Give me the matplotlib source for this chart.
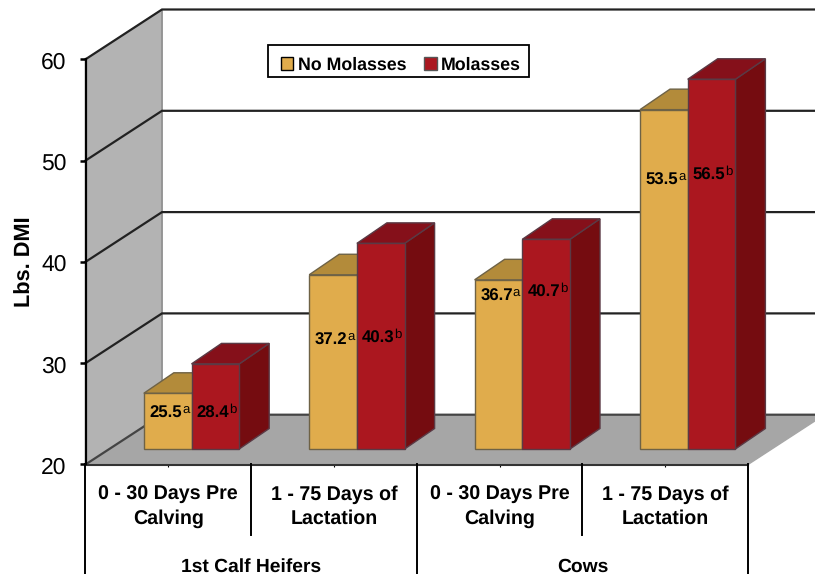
import matplotlib
matplotlib.use("Agg")
import matplotlib.pyplot as plt
from matplotlib.patches import Patch, Polygon, Rectangle
from matplotlib.transforms import ScaledTranslation

plt.rcParams['font.family'] = ['Liberation Sans', 'DejaVu Sans']
plt.rcParams['text.hinting'] = 'no_hinting'

# datos
groups = ["0 - 30 Days Pre\nCalving", "1 - 75 Days of\nLactation",
          "0 - 30 Days Pre\nCalving", "1 - 75 Days of\nLactation"]
parents = ["1st Calf Heifers", "Cows"]
no_molasses = [25.5, 37.2, 36.7, 53.5]
molasses = [28.4, 40.3, 40.7, 56.5]
yticks = [20, 30, 40, 50, 60]

# posicion de las etiquetas, en unidades del eje y
label_no = [25.05, 32.25, 36.6, 48.05]
label_mol = [25.05, 32.45, 37.0, 48.55]

YELLOW, YELLOW_TOP = "#E0AC4C", "#B38B3A"
RED, RED_TOP, RED_SIDE = "#AB171F", "#85101A", "#750C10"
WALL, FLOOR = "#B3B3B3", "#A6A6A6"

W, H = 815, 574
LEFT, RIGHT = 85.5, 748
Y20, Y60 = 464.5, 59.3
UNIT = (Y20 - Y60) / 40   # pixeles por unidad

fig = plt.figure(figsize=(W / 100, H / 100), dpi=100)
ax = fig.add_axes([LEFT / W, 1 - Y20 / H, (W - LEFT) / W, (Y20 - Y60) / H])
ax.set_xlim(LEFT, W)
ax.set_ylim(20, 60)


def ypx(p):
    # pasa una fila de pixeles a unidades del eje y
    return 20 + (Y20 - p) / UNIT


def poly(pts, color, edge=None, z=1, lw=1.0):
    ax.add_patch(Polygon(pts, closed=True, facecolor=color, edgecolor=edge or color,
                         lw=lw, zorder=z, clip_on=False))


# paredes y piso
wall_dx, wall_dy = 76.5, 49.8 / UNIT
poly([(LEFT, 20), (LEFT + wall_dx, 20 + wall_dy), (LEFT + wall_dx, 60 + wall_dy), (LEFT, 60)], WALL, z=1)
ax.plot([LEFT + wall_dx] * 2, [20 + wall_dy, 60 + wall_dy], color="#909090", lw=1.2, zorder=1.1, clip_on=False)
poly([(LEFT, 20), (LEFT + wall_dx, 20 + wall_dy), (RIGHT + wall_dx, 20 + wall_dy), (RIGHT, 20)], FLOOR, z=1.2)

# lineas de rejilla
for t in yticks:
    color = "#222222" if t > 20 else "#444444"
    ax.plot([LEFT, LEFT + wall_dx, W], [t, t + wall_dy, t + wall_dy], color=color, lw=1.6,
            zorder=1.5, clip_on=False, solid_joinstyle="miter")

# barras
bar_w = 47.7
group_w = 165.4
first_mid = 191.5
depth_dx, depth_dy = 30, 20.5 / UNIT
rise = 15.5 / UNIT
base = 20 + rise


def bar3d(x0, v, front, top, side, edge, z):
    x1 = x0 + bar_w
    t = v + rise
    poly([(x1, base), (x1 + depth_dx, base + depth_dy), (x1 + depth_dx, t + depth_dy), (x1, t)], side, edge, z)
    poly([(x0, t), (x0 + depth_dx, t + depth_dy), (x1 + depth_dx, t + depth_dy), (x1, t)], top, edge, z)
    ax.bar(x0, v - 20, bar_w, bottom=base, align="edge", color=front, edgecolor=edge, lw=1.0,
           zorder=z, clip_on=False)


for i in range(len(groups)):
    mid = first_mid + i * group_w
    bar3d(mid - bar_w, no_molasses[i], YELLOW, YELLOW_TOP, YELLOW_TOP, "#6E6246", 2 + i * 0.1)
    bar3d(mid, molasses[i], RED, RED_TOP, RED_SIDE, "#5A3A45", 2.05 + i * 0.1)
    ax.text(mid - 9.5, label_no[i], "%.1f" % no_molasses[i], ha="right", va="center", fontsize=12.1,
            fontweight="bold", color="black", zorder=5)
    ax.text(mid - 9.5, label_no[i] + 0.4, "a", ha="left", va="center", fontsize=9.5, color="black", zorder=5)
    ax.text(mid + 5, label_mol[i], "%.1f" % molasses[i], ha="left", va="center", fontsize=12.1,
            fontweight="bold", color="black", zorder=5)
    ax.text(mid + 37.5, label_mol[i] + 0.4, "b", ha="left", va="center", fontsize=9.5, color="black", zorder=5)

# ejes
for s in ["top", "right"]:
    ax.spines[s].set_visible(False)
ax.patch.set_visible(False)
ax.spines["left"].set_linewidth(1.6)
ax.spines["left"].set_zorder(3)
ax.spines["bottom"].set_bounds(LEFT, RIGHT)
ax.spines["bottom"].set_linewidth(1.5)
ax.spines["bottom"].set_color("#333333")
ax.set_yticks(yticks)
ax.tick_params(axis="y", length=4.5, width=1.8, pad=9, labelsize=16.5)
down = ScaledTranslation(0, -1.0 / 100, fig.dpi_scale_trans)
for lab in ax.get_yticklabels():
    lab.set_transform(lab.get_transform() + down)
ax.set_ylabel("Lbs. DMI", fontsize=15.7, fontweight="bold", labelpad=4)

seps = [LEFT + i * (RIGHT - LEFT) / 4 for i in range(5)]
ax.set_xticks([(a + b) / 2 for a, b in zip(seps[:-1], seps[1:])])
ax.set_xticklabels([])
ax.tick_params(axis="x", length=1.5, width=0.8)

# separadores y etiquetas de categorias
for i, x in enumerate(seps):
    bottom = ypx(H) if i % 2 == 0 else ypx(535.5)
    ax.plot([x, x], [20, bottom], color="black", lw=1.4, clip_on=False, zorder=3)
for i, name in enumerate(groups):
    ax.text((seps[i] + seps[i + 1]) / 2, ypx(506.5), name, ha="center", va="center", fontsize=14.1,
            fontweight="bold", linespacing=1.35)
for i, name in enumerate(parents):
    ax.text((seps[2 * i] + seps[2 * i + 2]) / 2, ypx(566.5), name, ha="center", va="center", fontsize=13.9,
            fontweight="bold")

# leyenda, con el marco aparte
ax.add_patch(Rectangle((268, ypx(77)), 261, ypx(45) - ypx(77), facecolor="white", edgecolor="black",
                       lw=1.3, zorder=5.5, clip_on=False))
handles = [Patch(facecolor=YELLOW, edgecolor="black", label="No Molasses"),
           Patch(facecolor=RED, edgecolor="#555555", label="Molasses")]
leg = ax.legend(handles=handles, ncol=2, loc="center", bbox_to_anchor=(401, ypx(65)),
                bbox_transform=ax.transData, frameon=False,
                prop={"weight": "bold", "size": 12.8}, handlelength=0.7, handleheight=0.7,
                handletextpad=0.25, columnspacing=1.0, borderpad=0, borderaxespad=0)
leg.set_zorder(6)

fig.savefig("out.png", dpi=100)
